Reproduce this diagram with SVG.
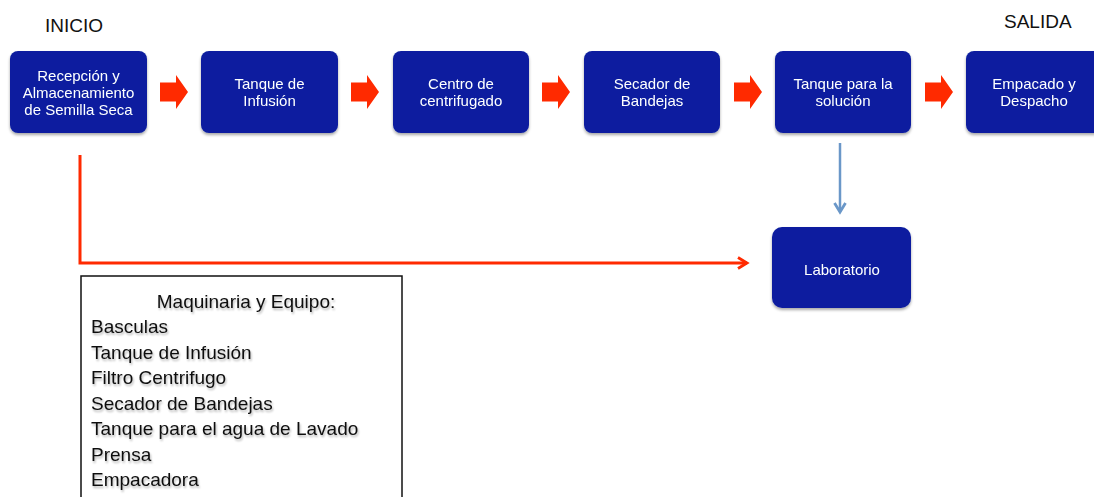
<svg xmlns="http://www.w3.org/2000/svg" width="1094" height="497" viewBox="0 0 1094 497">
  <defs>
    <filter id="boxShadow" x="-10%" y="-10%" width="125%" height="130%">
      <feGaussianBlur in="SourceAlpha" stdDeviation="1.5"/>
      <feOffset dx="0" dy="2" result="b"/>
      <feComponentTransfer><feFuncA type="linear" slope="0.35"/></feComponentTransfer>
      <feMerge><feMergeNode/><feMergeNode in="SourceGraphic"/></feMerge>
    </filter>
    <filter id="textShadow" x="-5%" y="-20%" width="110%" height="150%">
      <feGaussianBlur in="SourceAlpha" stdDeviation="1.2"/>
      <feOffset dx="1" dy="2"/>
      <feComponentTransfer><feFuncA type="linear" slope="0.3"/></feComponentTransfer>
      <feMerge><feMergeNode/><feMergeNode in="SourceGraphic"/></feMerge>
    </filter>
    <marker id="redHead" markerWidth="14" markerHeight="14" refX="11" refY="7" orient="auto" markerUnits="userSpaceOnUse">
      <path d="M2,1.5 L11,7 L2,12.5" fill="none" stroke="#ff2a00" stroke-width="2.8"/>
    </marker>
    <marker id="blueHead" markerWidth="14" markerHeight="14" refX="11" refY="7" orient="auto" markerUnits="userSpaceOnUse">
      <path d="M2,1.5 L11,7 L2,12.5" fill="none" stroke="#6a97c8" stroke-width="2.8"/>
    </marker>
    <path id="blockArrow" d="M0,-9.5 L16,-9.5 L16,-17 L28,0 L16,17 L16,9.5 L0,9.5 Z"/>
  </defs>
  <style>
    .node rect { fill: #0b1f9f; }
    .node text { fill: #ffffff; font-family: "Liberation Sans", Arial, sans-serif; font-size: 15px; text-anchor: middle; }
    .label { fill: #111111; font-family: "Liberation Sans", Arial, sans-serif; font-size: 19px; }
    .list text { fill: #111111; font-family: "Liberation Sans", Arial, sans-serif; font-size: 19px; }
    .block { fill: #ff2a00; }
  </style>

  <rect width="1094" height="497" fill="#ffffff"/>

  <text class="label" x="45" y="32">INICIO</text>
  <text class="label" x="1004" y="28">SALIDA</text>

  <g id="n1" class="node" filter="url(#boxShadow)">
    <rect x="10" y="51" width="137" height="82" rx="8"/>
    <text x="78.5" y="81">Recepción y</text>
    <text x="78.5" y="98">Almacenamiento</text>
    <text x="78.5" y="115">de Semilla Seca</text>
  </g>
  <g id="n2" class="node" filter="url(#boxShadow)">
    <rect x="201" y="51" width="137" height="82" rx="8"/>
    <text x="269.5" y="89">Tanque de</text>
    <text x="269.5" y="106">Infusión</text>
  </g>
  <g id="n3" class="node" filter="url(#boxShadow)">
    <rect x="393" y="51" width="136" height="82" rx="8"/>
    <text x="461" y="89">Centro de</text>
    <text x="461" y="106">centrifugado</text>
  </g>
  <g id="n4" class="node" filter="url(#boxShadow)">
    <rect x="584" y="51" width="136" height="82" rx="8"/>
    <text x="652" y="89">Secador de</text>
    <text x="652" y="106">Bandejas</text>
  </g>
  <g id="n5" class="node" filter="url(#boxShadow)">
    <rect x="775" y="51" width="136" height="82" rx="8"/>
    <text x="843" y="89">Tanque para la</text>
    <text x="843" y="106">solución</text>
  </g>
  <g id="n6" class="node" filter="url(#boxShadow)">
    <rect x="966" y="51" width="136" height="82" rx="8"/>
    <text x="1034" y="89">Empacado y</text>
    <text x="1034" y="106">Despacho</text>
  </g>
  <g id="n7" class="node" filter="url(#boxShadow)">
    <rect x="772" y="227" width="139" height="81" rx="10"/>
    <text x="842" y="275">Laboratorio</text>
  </g>

  <g id="connectors">
    <use href="#blockArrow" class="block" x="160" y="92"/>
    <use href="#blockArrow" class="block" x="351" y="92"/>
    <use href="#blockArrow" class="block" x="542" y="92"/>
    <use href="#blockArrow" class="block" x="734" y="92"/>
    <use href="#blockArrow" class="block" x="925" y="92"/>
    <path d="M80,155 L80,263 L747,263" fill="none" stroke="#ff2a00" stroke-width="3" marker-end="url(#redHead)"/>
    <path d="M840,143 L840,212" fill="none" stroke="#6a97c8" stroke-width="2.5" marker-end="url(#blueHead)"/>
  </g>

  <g id="equipment" class="list">
    <rect x="81" y="276" width="321" height="230" fill="#ffffff" stroke="#111111" stroke-width="1.5"/>
    <g filter="url(#textShadow)">
      <text x="246" y="308" text-anchor="middle">Maquinaria y Equipo:</text>
      <text x="91" y="333">Basculas</text>
      <text x="91" y="359">Tanque de Infusión</text>
      <text x="91" y="384">Filtro Centrifugo</text>
      <text x="91" y="410">Secador de Bandejas</text>
      <text x="91" y="435">Tanque para el agua de Lavado</text>
      <text x="91" y="461">Prensa</text>
      <text x="91" y="486">Empacadora</text>
    </g>
  </g>
</svg>
